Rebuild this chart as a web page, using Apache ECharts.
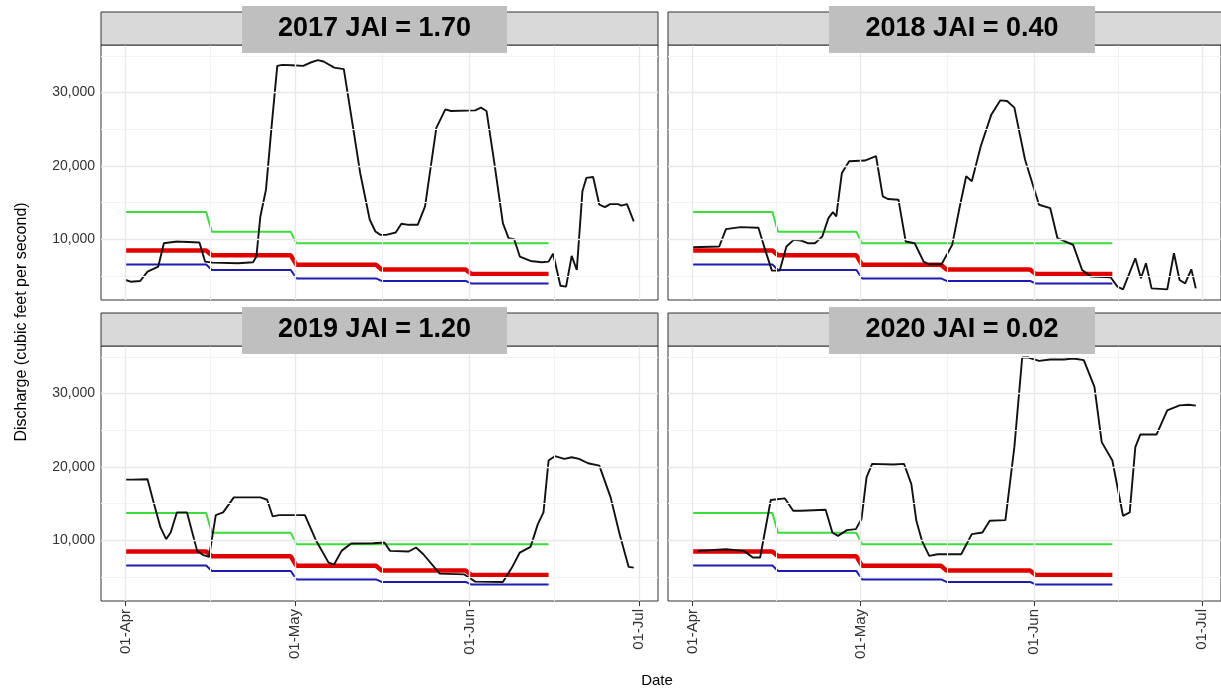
<!DOCTYPE html>
<html><head><meta charset="utf-8">
<script src="https://cdn.jsdelivr.net/npm/echarts@6/dist/echarts.min.js"></script>
<style>html,body{margin:0;padding:0;background:#fff}#c{width:1221px;height:694px}</style>
</head><body><div id="c"></div>
<script>
// days since 01-Apr, discharge (cfs)
const panelTitles = ['2017 JAI = 1.70','2018 JAI = 0.40','2019 JAI = 1.20','2020 JAI = 0.02'];
const flow2017 = [[0,4430],[0.9,4200],[2.6,4290],[3.9,5570],[5.8,6260],[6.8,9450],[9.1,9680],[13.1,9540],[14.1,6940],[15.4,6800],[20,6710],[22.6,6850],[23.2,7630],[23.9,13100],[24.9,16760],[25.9,25430],[26.9,33650],[27.8,33790],[29.5,33740],[31.5,33650],[32.8,34110],[34.1,34430],[35.1,34250],[37,33420],[38.7,33200],[40.3,25430],[41.6,19040],[43.3,12650],[44.3,11050],[45.2,10590],[46.2,10590],[47.9,10910],[48.9,12100],[50.2,11960],[51.8,11960],[53.1,14470],[55.1,25200],[56.7,27720],[57.7,27490],[62,27580],[63,27950],[64,27490],[65.3,20870],[66.9,12190],[67.9,10140],[68.9,10000],[69.9,7630],[71.8,7030],[73.8,6850],[75,6940],[75.8,8000],[77.1,3650],[78.1,3520],[79.1,7720],[80,5800],[81,16530],[81.7,18360],[82.9,18490],[84,14700],[85,14380],[85.9,14790],[87.3,14790],[87.9,14570],[88.9,14790],[90.1,12420]];
const flow2018 = [[0,8900],[4.8,9000],[6,11370],[8.6,11640],[11.8,11550],[13,8540],[14.2,5710],[15.6,5710],[16.8,9000],[18.1,9910],[19.4,9820],[20.6,9450],[21.9,9450],[23.2,10370],[24.3,12880],[25.1,13700],[25.7,13100],[26.7,19040],[28,20640],[30.8,20730],[32.8,21320],[34,15840],[34.9,15480],[36.8,15390],[38.1,9680],[39.7,9450],[41.3,6940],[42.2,6580],[44.5,6580],[46.4,9220],[47.7,14250],[48.9,18580],[49.9,17900],[51.5,22690],[53.4,27030],[55,28950],[56.2,28860],[57.5,27950],[59.4,20870],[61.9,14700],[63.9,14250],[65.2,10140],[68,9220],[69.6,5800],[71.2,4890],[74.7,4800],[75.9,3520],[76.9,3150],[79.1,7400],[80.1,4660],[81,6710],[82,3290],[84.8,3150],[86,8080],[87,4430],[88,3970],[89.1,5890],[89.9,3290]];
const flow2019 = [[0,18260],[1.2,18260],[3.9,18310],[4.9,15390],[6.2,11740],[7.2,10140],[8,11050],[9.1,13790],[10.9,13790],[12.7,8540],[13.7,8000],[14.8,7720],[16,13420],[17.3,13790],[19.2,15840],[23.9,15840],[25.1,15520],[26.1,13240],[27.2,13420],[31.8,13420],[33.8,9910],[36,6940],[37,6710],[38.3,8540],[40,9540],[43.9,9590],[45.9,9680],[46.9,8540],[50.2,8450],[51.5,9000],[52.8,8080],[55.7,5430],[60,5340],[62,4340],[66.9,4290],[68.5,6260],[69.9,8310],[71.8,9090],[73.1,12190],[74.1,13790],[75,20870],[76.1,21460],[77.8,21100],[79.1,21320],[80.4,21100],[82,20500],[84,20180],[86,15840],[87.6,10820],[89.2,6350],[90.1,6260]];
const flow2020 = [[1,8540],[6,8770],[9.2,8540],[10.8,7630],[12.1,7630],[14,15480],[16.5,15710],[18,14020],[19.4,14020],[23.8,14160],[25,11050],[26,10590],[27.6,11370],[29.2,11510],[30.2,12880],[31.1,18580],[32.1,20410],[35.9,20320],[37.8,20410],[39.1,17670],[40,12650],[41,9910],[42.3,7850],[43.8,8080],[48,8080],[49.9,10820],[51.8,11050],[53.1,12650],[55.9,12740],[57.5,22690],[58.9,34930],[60,34930],[61.9,34470],[63.9,34660],[66.4,34660],[68,34790],[69.9,34570],[71.8,30910],[73.1,23380],[75,20870],[76.9,13330],[78.1,13790],[79.1,22690],[80,24430],[82.9,24430],[84.8,27720],[87,28400],[88.6,28490],[89.9,28360]];
const greenLine = [[0,13700],[14.3,13700],[15.3,11000],[29.3,11000],[30.3,9450],[75,9450]];
const redLine = [[0,8450],[14.3,8450],[15.3,7800],[29.3,7800],[30.3,6500],[44.4,6500],[45.4,5850],[60.3,5850],[61.3,5250],[75,5250]];
const blueLine = [[0,6550],[14.3,6550],[15.3,5800],[29.3,5800],[30.3,4650],[44.4,4650],[45.4,4300],[60.3,4300],[61.3,3950],[75,3950]];
const xTickDays = [0,30,61,91];
const xTickLabels = ['01-Apr','01-May','01-Jun','01-Jul'];
const xMinorDays = [15,45.5,76];
const yTicks = [10000,20000,30000];
const yMinor = [5000,15000,25000,35000];
const flows = [flow2017,flow2018,flow2019,flow2020];

const chart = echarts.init(document.getElementById('c'));
const L = [101,668], T = [45,346], W = 557, H = 255;
const grids=[], xAxes=[], yAxes=[], series=[], graphics=[];
for (let i=0;i<4;i++){
  const col=i%2, row=Math.floor(i/2);
  grids.push({left:L[col],top:T[row],width:W,height:H,show:true,borderColor:'#333',borderWidth:1,backgroundColor:'#fff'});
  xAxes.push({type:'value',gridIndex:i,min:-4.35,max:94.4,splitLine:{show:false},axisLine:{show:false},
    axisTick:{show:row===1,customValues:xTickDays,length:5,lineStyle:{color:'#333'}},
    axisLabel:{show:row===1,customValues:xTickDays,rotate:90,color:'#333',fontSize:15,fontFamily:'Liberation Sans',
      formatter:v=>xTickLabels[xTickDays.indexOf(v)]||''},
    name:(i===2)?'Date':'',nameLocation:'end',nameGap:0,
    nameTextStyle:{fontSize:15,fontFamily:'Liberation Sans',color:'#000',align:'center',verticalAlign:'top',padding:[72,0,0,-2]}});
  yAxes.push({type:'value',gridIndex:i,min:1700,max:36500,splitLine:{show:false},axisLine:{show:false},
    axisTick:{show:col===0,customValues:yTicks,length:5,lineStyle:{color:'#333'}},
    axisLabel:{show:col===0,customValues:yTicks,color:'#333',fontSize:14,fontFamily:'Liberation Sans',margin:6,
      formatter:v=>v.toLocaleString('en-US')}});
  const grid = [];
  yMinor.forEach(v=>grid.push({yAxis:v,lineStyle:{color:'#f3f3f3',width:1,type:'solid'}}));
  xMinorDays.forEach(v=>grid.push({xAxis:v,lineStyle:{color:'#f3f3f3',width:1,type:'solid'}}));
  yTicks.forEach(v=>grid.push({yAxis:v,lineStyle:{color:'#e8e8e8',width:1.4,type:'solid'}}));
  xTickDays.forEach(v=>grid.push({xAxis:v,lineStyle:{color:'#e8e8e8',width:1.4,type:'solid'}}));
  const base={type:'line',xAxisIndex:i,yAxisIndex:i,showSymbol:false,symbol:'none',silent:true,animation:false};
  series.push(Object.assign({},base,{data:greenLine,lineStyle:{color:'#3ddc3d',width:2},
    markLine:{silent:true,symbol:'none',label:{show:false},animation:false,lineStyle:{type:'solid'},data:grid}}));
  series.push(Object.assign({},base,{data:redLine,lineStyle:{color:'#e00000',width:4.5}}));
  series.push(Object.assign({},base,{data:blueLine,lineStyle:{color:'#1c1cb0',width:2}}));
  series.push(Object.assign({},base,{data:flows[i],lineStyle:{color:'#111',width:1.9}}));
  const sy = T[row]-33;
  graphics.push({type:'rect',shape:{x:L[col],y:sy,width:W,height:33},style:{fill:'#d9d9d9',stroke:'#333',lineWidth:1},z:10});
  const bx = col===0?242:829, bw = col===0?265:266;
  graphics.push({type:'rect',shape:{x:bx,y:T[row]-39,width:bw,height:47},style:{fill:'#bfbfbf'},z:11});
  graphics.push({type:'text',x:bx+bw/2,y:T[row]-16,style:{text:panelTitles[i],fill:'#000',font:'bold 27px "Liberation Sans"',align:'center',verticalAlign:'middle'},z:12});
}
graphics.push({type:'text',x:22,y:322,rotation:Math.PI/2,style:{text:'Discharge (cubic feet per second)',fill:'#000',font:'16px "Liberation Sans"',align:'center',verticalAlign:'middle'},z:12});
chart.setOption({animation:false,grid:grids,xAxis:xAxes,yAxis:yAxes,series:series,graphic:graphics});
</script></body></html>
